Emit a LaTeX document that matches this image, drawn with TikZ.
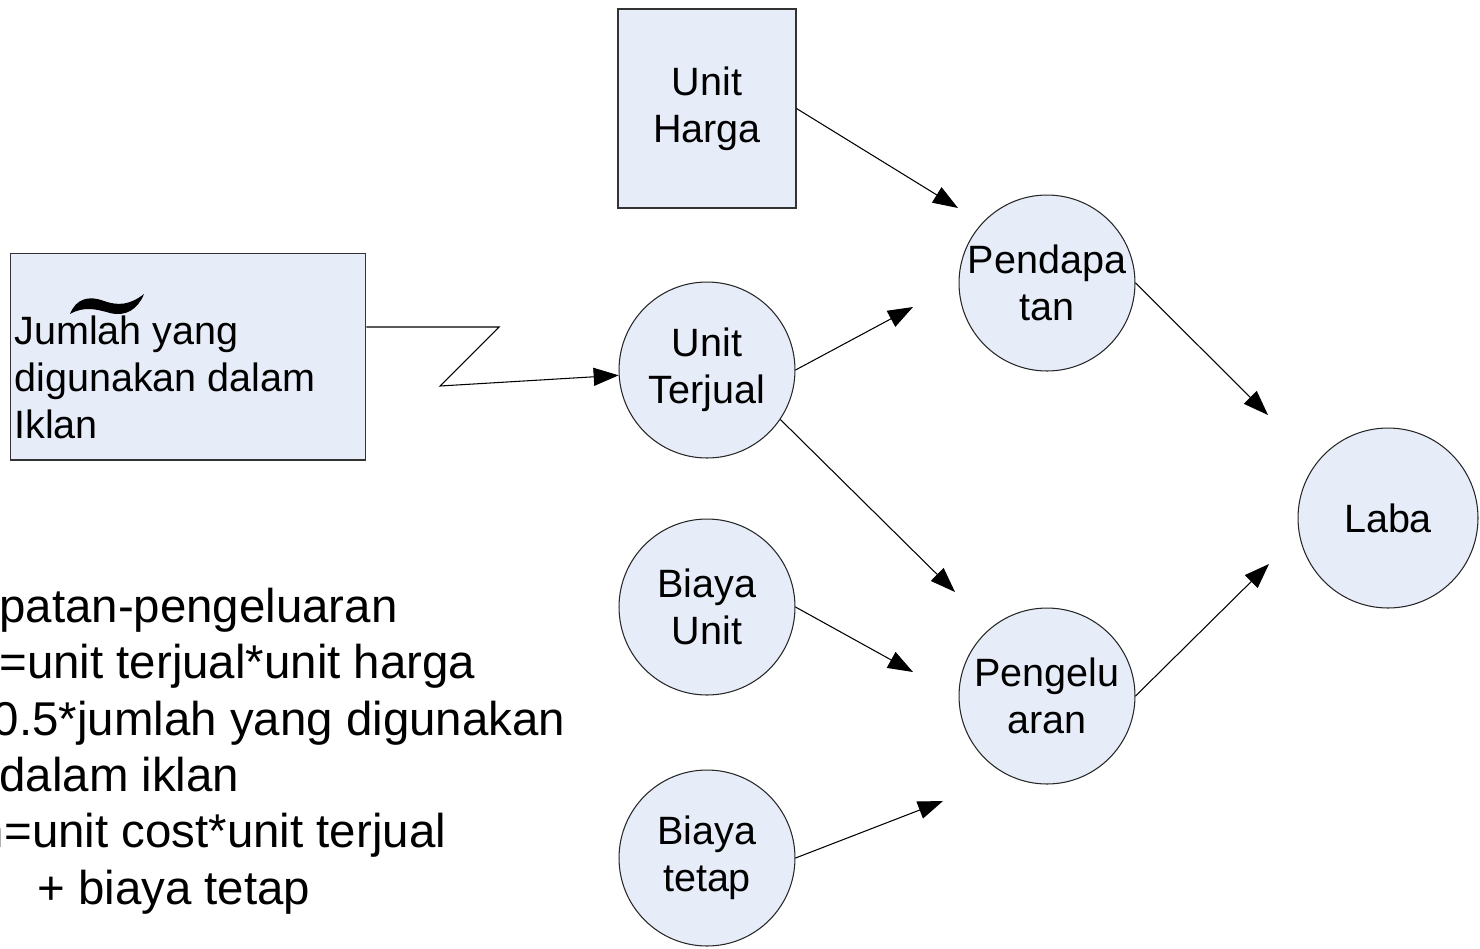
\documentclass[tikz,border=0pt]{standalone}
\usepackage{fontspec}
\setmainfont{Liberation Sans}
\usetikzlibrary{arrows.meta}
\definecolor{nodefill}{RGB}{230,236,248}
\newcommand{\ndfont}{\fontsize{22.5pt}{26.7pt}\selectfont}
\newcommand{\rumusfont}{\fontsize{27pt}{32.1pt}\selectfont}

\begin{document}
\begin{tikzpicture}[x=0.02cm, y=-0.02cm,
    box/.style={draw=black!80, line width=0.6pt, fill=nodefill, inner sep=0pt},
    ball/.style={circle, draw=black!85, line width=0.6pt, fill=nodefill,
                 minimum size=3.52cm, inner sep=0pt, align=center, font=\ndfont},
    flow/.style={line width=0.6pt, -{Triangle[length=0.5cm, width=0.36cm]}}]
  \useasboundingbox (0,0) rectangle (1480,948);

  % inputs
  \node[box, minimum width=3.56cm, minimum height=3.98cm, align=center, font=\ndfont]
       (harga) at (707,108.5) {Unit\\Harga};
  \node[box, minimum width=7.12cm, minimum height=4.14cm] (iklan) at (188,356.5) {};
  \node[anchor=west, inner sep=0pt, align=left, font=\ndfont] (iklantext) at (14,377)
       {Jumlah yang\\digunakan dalam\\Iklan};
  \fill (70,314) .. controls (76,299) and (88,295) .. (104,301)
       .. controls (118,306) and (130,305) .. (144,294)
       .. controls (138,309) and (126,317) .. (110,313)
       .. controls (96,309) and (84,306) .. (70,314) -- cycle;

  % model
  \node[ball] (terjual) at (707,370) {Unit\\Terjual};
  \node[ball] (biayaunit) at (707,607) {Biaya\\Unit};
  \node[ball] (biayatetap) at (707,858) {Biaya\\tetap};
  \node[ball] (pend) at (1047,283) {Pendapa\\tan};
  \node[ball] (pengel) at (1047,696) {Pengelu\\aran};
  \node[ball, minimum size=3.6cm] (laba) at (1388,518) {Laba};

  % arrow ends
  \coordinate (pend-a) at (958,208);
  \coordinate (pend-b) at (913,307);
  \coordinate (pengel-a) at (955,592);
  \coordinate (pengel-b) at (913,672);
  \coordinate (pengel-c) at (943,801);
  \coordinate (laba-a) at (1268,415);
  \coordinate (laba-b) at (1269,564);
  \coordinate (zz1) at (499,327);
  \coordinate (zz2) at (440,386);

  \draw[flow] (harga.east) -- (pend-a);
  \draw[flow] (terjual.east) -- (pend-b);
  \draw[flow] (iklan.east |- zz1) -- (zz1) -- (zz2) -- (terjual);
  \draw[flow] (terjual.-34) -- (pengel-a);
  \draw[flow] (biayaunit.east) -- (pengel-b);
  \draw[flow] (biayatetap.east) -- (pengel-c);
  \draw[flow] (pend.east) -- (laba-a);
  \draw[flow] (pengel.east) -- (laba-b);

  % formulas
  \node[anchor=west, inner sep=0pt, align=left, font=\rumusfont] (rumus) at (-1,751)
       {patan-pengeluaran\\=unit terjual*unit harga\\\hspace*{0.4cm}\llap{0}.5*jumlah yang digunakan\\dalam iklan\\\hspace*{0.1cm}\llap{n}=unit cost*unit terjual\\\hspace*{0.76cm}+ biaya tetap};
\end{tikzpicture}
\end{document}
